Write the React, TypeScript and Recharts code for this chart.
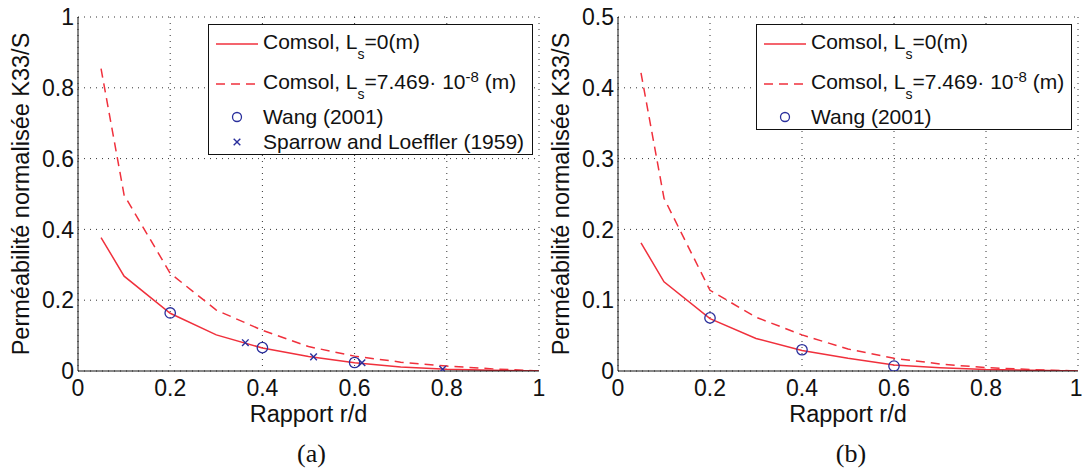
import React from 'react';
import { ComposedChart, Line, XAxis, YAxis, CartesianGrid, Legend } from 'recharts';

// r/d values of the Comsol simulations
const comsolRatio = [0.05, 0.1, 0.2, 0.3, 0.4, 0.5, 0.6, 0.7, 0.8, 0.9, 1.0];

// panel (a)
const noSlipA = [0.377, 0.268, 0.163, 0.102, 0.065, 0.041, 0.023, 0.011, 0.005, 0.002, 0];
const slipA = [0.854, 0.497, 0.276, 0.172, 0.115, 0.069, 0.042, 0.025, 0.014, 0.006, 0];
const wangRatioA = [0.2, 0.4, 0.6];
const wangA = [0.164, 0.066, 0.024];
const sparrowRatio = [0.363, 0.511, 0.616, 0.791];
const sparrowA = [0.08, 0.04, 0.0235, 0.005];

// panel (b)
const noSlipB = [0.181, 0.126, 0.074, 0.046, 0.029, 0.018, 0.0085, 0.0047, 0.002, 0.001, 0];
const slipB = [0.421, 0.244, 0.114, 0.076, 0.051, 0.031, 0.018, 0.0099, 0.0047, 0.002, 0];
const wangRatioB = [0.2, 0.4, 0.6];
const wangB = [0.075, 0.03, 0.007];

const ratioTicks = [0, 0.2, 0.4, 0.6, 0.8, 1];
const permTicksA = [0, 0.2, 0.4, 0.6, 0.8, 1];
const permTicksB = [0, 0.1, 0.2, 0.3, 0.4, 0.5];

const RED = '#f0303c';
const BLUE = '#2a2f9c';
const FONT = '"Liberation Sans", Arial, Helvetica, sans-serif';

type Pt = { x: number; y: number };
const zip = (xs: number[], ys: number[]): Pt[] => xs.map((x, i) => ({ x, y: ys[i] }));

const minorTicks = (max: number, step: number) =>
  Array.from({ length: Math.round(max / step) + 1 }, (_, i) => +(i * step).toFixed(3));

const EmptyTick = () => <g />;

const CircleDot = (props: any) => {
  const { cx, cy, index, size = 5.2 } = props;
  if (cx == null || cy == null) return <g key={index} />;
  return <circle key={index} cx={cx} cy={cy} r={size} fill="none" stroke={BLUE} strokeWidth={1.3} />;
};

const CrossDot = (props: any) => {
  const { cx, cy, index } = props;
  if (cx == null || cy == null) return <g key={index} />;
  const d = 3.3;
  return (
    <g key={index} stroke={BLUE} strokeWidth={1.4}>
      <line x1={cx - d} y1={cy - d} x2={cx + d} y2={cy + d} />
      <line x1={cx - d} y1={cy + d} x2={cx + d} y2={cy - d} />
    </g>
  );
};

const Sub = ({ children }: { children: React.ReactNode }) => (
  <span style={{ fontSize: 14, position: 'relative', top: 10 }}>{children}</span>
);
const Sup = ({ children }: { children: React.ReactNode }) => (
  <span style={{ fontSize: 15, position: 'relative', top: -7 }}>{children}</span>
);

type Row = { kind: 'solid' | 'dash' | 'circle' | 'cross'; label: React.ReactNode };

const rowsA: Row[] = [
  { kind: 'solid', label: <>Comsol, L<Sub>s</Sub>=0(m)</> },
  { kind: 'dash', label: <>Comsol, L<Sub>s</Sub>=7.469· 10<Sup>-8</Sup> (m)</> },
  { kind: 'circle', label: 'Wang (2001)' },
  { kind: 'cross', label: 'Sparrow and Loeffler (1959)' },
];
const rowsB: Row[] = rowsA.slice(0, 3);
const rowBaselines = [24, 64, 99, 124];

const Sample = ({ kind }: { kind: Row['kind'] }) => {
  if (kind === 'solid') return <line x1={0} y1={0} x2={42} y2={0} stroke={RED} strokeWidth={1.5} />;
  if (kind === 'dash')
    return <line x1={0} y1={0} x2={42} y2={0} stroke={RED} strokeWidth={1.5} strokeDasharray="9 6" />;
  if (kind === 'circle') return <CircleDot cx={21} cy={-2} size={4.5} />;
  return <CrossDot cx={21} cy={-2} />;
};

const LegendBox = ({ rows, width, height }: { rows: Row[]; width: number; height: number }) => (
  <div
    style={{
      position: 'relative',
      width,
      height,
      boxSizing: 'border-box',
      border: '1.5px solid #111',
      background: '#fff',
      fontFamily: FONT,
      fontSize: 21,
      color: '#111',
    }}
  >
    {rows.map((r, i) => (
      <React.Fragment key={i}>
        <svg
          width={44}
          height={14}
          style={{ position: 'absolute', left: 7, top: rowBaselines[i] - 12, overflow: 'visible' }}
        >
          <g transform="translate(0,7)">
            <Sample kind={r.kind} />
          </g>
        </svg>
        <div
          style={{
            position: 'absolute',
            left: 54,
            top: rowBaselines[i] - 18,
            lineHeight: 1,
            whiteSpace: 'nowrap',
          }}
        >
          {r.label}
        </div>
      </React.Fragment>
    ))}
  </div>
);

type PanelProps = {
  left: number;
  width: number;
  marginRight: number;
  yMax: number;
  yTicks: number[];
  yMinor: number;
  noSlip: Pt[];
  slip: Pt[];
  wang: Pt[];
  sparrow?: Pt[];
  rows: Row[];
  legendLeft: number;
  legendWidth: number;
  legendHeight: number;
  caption: string;
};

const Panel = (p: PanelProps) => {
  const axisText = { fontSize: 23, fill: '#111', fontFamily: FONT };
  const plotMid = (78 + (p.width - p.marginRight)) / 2;
  return (
    <div style={{ position: 'absolute', left: p.left, top: 0 }}>
      <ComposedChart
        width={p.width}
        height={472}
        margin={{ top: 17, right: p.marginRight, bottom: 71, left: 0 }}
      >
        <CartesianGrid stroke="#333" strokeDasharray="1 5" />
        <XAxis
          xAxisId="minor"
          type="number"
          dataKey="x"
          domain={[0, 1]}
          allowDataOverflow
          ticks={minorTicks(1, 0.02)}
          height={0}
          mirror
          axisLine={false}
          tickSize={3}
          tick={EmptyTick}
          tickLine={{ stroke: '#222' }}
        />
        <XAxis
          xAxisId="major"
          type="number"
          dataKey="x"
          domain={[0, 1]}
          allowDataOverflow
          ticks={ratioTicks}
          height={0}
          mirror
          axisLine={false}
          tickSize={5}
          tick={EmptyTick}
          tickLine={{ stroke: '#222' }}
        />
        <XAxis
          type="number"
          dataKey="x"
          domain={[0, 1]}
          allowDataOverflow
          ticks={ratioTicks}
          tickFormatter={(v: number) => String(v)}
          height={30}
          tickLine={false}
          tickSize={0}
          tickMargin={9}
          axisLine={{ stroke: '#111' }}
          tick={axisText}
        />
        <YAxis
          yAxisId="minor"
          type="number"
          domain={[0, p.yMax]}
          allowDataOverflow
          ticks={minorTicks(p.yMax, p.yMinor)}
          width={0}
          mirror
          axisLine={false}
          tickSize={3}
          tick={EmptyTick}
          tickLine={{ stroke: '#222' }}
        />
        <YAxis
          yAxisId="major"
          type="number"
          domain={[0, p.yMax]}
          allowDataOverflow
          ticks={p.yTicks}
          width={0}
          mirror
          axisLine={false}
          tickSize={5}
          tick={EmptyTick}
          tickLine={{ stroke: '#222' }}
        />
        <YAxis
          type="number"
          domain={[0, p.yMax]}
          allowDataOverflow
          ticks={p.yTicks}
          tickFormatter={(v: number) => String(v)}
          width={78}
          tickLine={false}
          tickSize={0}
          tickMargin={4}
          axisLine={{ stroke: '#111' }}
          tick={axisText}
        />
        <Line
          data={p.noSlip}
          dataKey="y"
          type="linear"
          stroke={RED}
          strokeWidth={1.5}
          dot={false}
          activeDot={false}
          isAnimationActive={false}
        />
        <Line
          data={p.slip}
          dataKey="y"
          type="linear"
          stroke={RED}
          strokeWidth={1.5}
          strokeDasharray="9 6"
          dot={false}
          activeDot={false}
          isAnimationActive={false}
        />
        <Line
          data={p.wang}
          dataKey="y"
          stroke="none"
          dot={CircleDot}
          activeDot={false}
          isAnimationActive={false}
        />
        {p.sparrow && (
          <Line
            data={p.sparrow}
            dataKey="y"
            stroke="none"
            dot={CrossDot}
            activeDot={false}
            isAnimationActive={false}
          />
        )}
        <Legend
          layout="vertical"
          align="center"
          verticalAlign="middle"
          wrapperStyle={{ left: p.legendLeft, top: 24, width: p.legendWidth, height: p.legendHeight }}
          content={() => <LegendBox rows={p.rows} width={p.legendWidth} height={p.legendHeight} />}
        />
        <text
          x={20.5}
          y={194}
          transform="rotate(-90, 20.5, 194)"
          textAnchor="middle"
          dominantBaseline="central"
          fontSize={23.5}
          fontFamily={FONT}
          fill="#111"
        >
          Perméabilité normalisée K33/S
        </text>
        <text x={plotMid} y={422} textAnchor="middle" fontSize={23.5} fontFamily={FONT} fill="#111">
          Rapport r/d
        </text>
        <text
          x={plotMid + 3}
          y={462}
          textAnchor="middle"
          fontSize={26}
          fontFamily='"Liberation Serif", "Times New Roman", serif'
          fill="#111"
        >
          {p.caption}
        </text>
      </ComposedChart>
    </div>
  );
};

export default function App() {
  return (
    <div style={{ position: 'absolute', left: 0, top: 0, width: 1082, height: 472, background: '#fff' }}>
      <Panel
        left={0}
        width={560}
        marginRight={21}
        yMax={1}
        yTicks={permTicksA}
        yMinor={0.02}
        noSlip={zip(comsolRatio, noSlipA)}
        slip={zip(comsolRatio, slipA)}
        wang={zip(wangRatioA, wangA)}
        sparrow={zip(sparrowRatio, sparrowA)}
        rows={rowsA}
        legendLeft={208}
        legendWidth={325}
        legendHeight={131}
        caption="(a)"
      />
      <Panel
        left={540}
        width={542}
        marginRight={4}
        yMax={0.5}
        yTicks={permTicksB}
        yMinor={0.01}
        noSlip={zip(comsolRatio, noSlipB)}
        slip={zip(comsolRatio, slipB)}
        wang={zip(wangRatioB, wangB)}
        rows={rowsB}
        legendLeft={216}
        legendWidth={316}
        legendHeight={106}
        caption="(b)"
      />
    </div>
  );
}
